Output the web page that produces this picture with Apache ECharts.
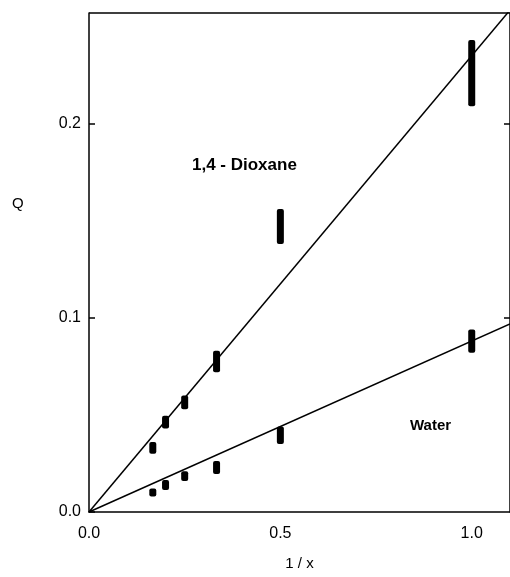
<!DOCTYPE html>
<html>
<head>
<meta charset="utf-8">
<script src="https://cdn.jsdelivr.net/npm/echarts@6/dist/echarts.min.js"></script>
<style>
  html, body { margin: 0; padding: 0; background: #fff; }
  #chart { width: 510px; height: 577px; }
</style>
</head>
<body>
<div id="chart"></div>
<script>
// 1/x positions of the measurements
const xValues = [0.1667, 0.2, 0.25, 0.3333, 0.5, 1.0];

// measured Q spread at each x: [low, high]
const dioxaneLow = [0.031, 0.044, 0.054, 0.073, 0.139, 0.210];
const dioxaneHigh = [0.035, 0.0485, 0.059, 0.082, 0.155, 0.242];
const waterLow = [0.0095, 0.0124, 0.017, 0.0206, 0.036, 0.083];
const waterHigh = [0.0105, 0.0155, 0.020, 0.0253, 0.043, 0.093];

// fitted straight lines through the origin
const dioxaneSlope = 0.235;
const waterSlope = 0.088;
const lineX = [0, 1.1];

const xTicks = [0, 0.5, 1.0];
const yTicks = [0, 0.1, 0.2];

const chart = echarts.init(document.getElementById("chart"));

const rangeData = (lo, hi) => xValues.map((x, i) => [x, lo[i], hi[i]]);

const renderRange = (params, api) => {
  const top = api.coord([api.value(0), api.value(2)]);
  const bottom = api.coord([api.value(0), api.value(1)]);
  const w = 7;
  const h = Math.max(bottom[1] - top[1], 4);
  return {
    type: "rect",
    shape: { x: top[0] - w / 2, y: (top[1] + bottom[1]) / 2 - h / 2 - 2, width: w, height: h + 4, r: 2 },
    style: { fill: "#000" },
  };
};

const fitLine = (slope) => lineX.map((x) => [x, x * slope]);

const font = "Liberation Sans, Arial, sans-serif";

const option = {
  animation: false,
  grid: { left: 89, top: 13, width: 423, height: 499 },
  xAxis: {
    type: "value",
    min: 0,
    max: 1.1,
    name: "1 / x",
    nameLocation: "middle",
    nameGap: 44,
    nameTextStyle: { color: "#000", fontSize: 15, fontFamily: font },
    splitLine: { show: false },
    axisLine: { lineStyle: { color: "#000", width: 1.5 } },
    axisTick: { show: false },
    axisLabel: {
      customValues: xTicks,
      color: "#000",
      fontSize: 16,
      fontFamily: font,
      margin: 14,
      formatter: (v) => v.toFixed(1),
    },
  },
  yAxis: [
    {
      type: "value",
      min: 0,
      max: 0.257,
      splitLine: { show: false },
      axisLine: { show: true, lineStyle: { color: "#000", width: 1.5 } },
      axisTick: { show: true, customValues: yTicks, inside: true, length: 6, lineStyle: { color: "#000", width: 1.5 } },
      axisLabel: {
        customValues: yTicks,
        color: "#000",
        fontSize: 16,
        fontFamily: font,
        margin: 8,
        formatter: (v) => v.toFixed(1),
      },
    },
    {
      type: "value",
      min: 0,
      max: 0.257,
      position: "right",
      splitLine: { show: false },
      axisLine: { show: true, lineStyle: { color: "#000", width: 1.5 } },
      axisTick: { show: true, customValues: yTicks.slice(1), inside: true, length: 6, lineStyle: { color: "#000", width: 1.5 } },
      axisLabel: { show: false },
    },
  ],
  graphic: [
    {
      type: "rect",
      shape: { x: 89, y: 13, width: 423, height: 0 },
      style: { stroke: "#000", lineWidth: 1.5, fill: null },
    },
    {
      type: "text",
      left: 12,
      top: 196,
      style: { text: "Q", fill: "#000", font: "15px " + font },
    },
    {
      type: "text",
      left: 192,
      top: 157,
      style: { text: "1,4 - Dioxane", fill: "#000", font: "bold 17px " + font },
    },
    {
      type: "text",
      left: 410,
      top: 418,
      style: { text: "Water", fill: "#000", font: "bold 15px " + font },
    },
  ],
  series: [
    {
      name: "1,4-Dioxane fit",
      type: "line",
      data: fitLine(dioxaneSlope),
      symbol: "none",
      lineStyle: { color: "#000", width: 1.5 },
    },
    {
      name: "Water fit",
      type: "line",
      data: fitLine(waterSlope),
      symbol: "none",
      lineStyle: { color: "#000", width: 1.5 },
    },
    {
      name: "1,4-Dioxane",
      type: "custom",
      renderItem: renderRange,
      data: rangeData(dioxaneLow, dioxaneHigh),
      encode: { x: 0, y: [1, 2] },
    },
    {
      name: "Water",
      type: "custom",
      renderItem: renderRange,
      data: rangeData(waterLow, waterHigh),
      encode: { x: 0, y: [1, 2] },
    },
  ],
};

chart.setOption(option);
</script>
</body>
</html>
